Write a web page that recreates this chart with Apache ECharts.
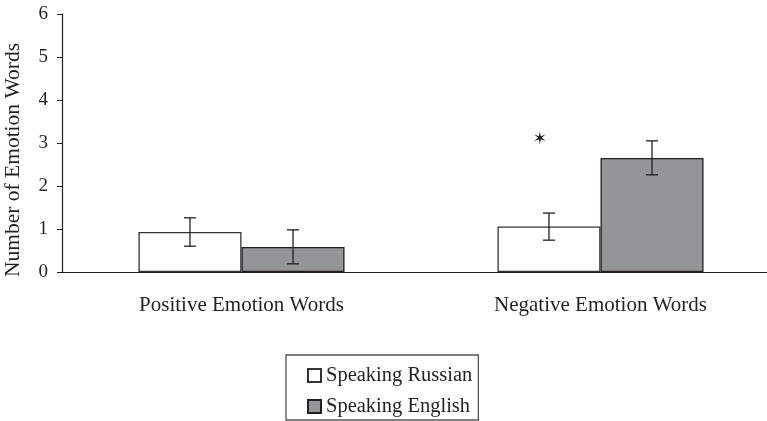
<!DOCTYPE html>
<html><head><meta charset="utf-8">
<script src="https://cdn.jsdelivr.net/npm/echarts@6/dist/echarts.min.js"></script>
<style>html,body{margin:0;padding:0;background:#fff}#c{width:767px;height:421px}</style>
</head><body><div id="c"></div>
<script>
const categories = ['Positive Emotion Words', 'Negative Emotion Words'];
const seriesNames = ['Speaking Russian', 'Speaking English'];
const russianValues = [0.93, 1.06];
const englishValues = [0.58, 2.65];
const russianErrLow = [0.60, 0.74];
const russianErrHigh = [1.26, 1.37];
const englishErrLow = [0.19, 2.26];
const englishErrHigh = [0.98, 3.05];
const yTicks = [0, 1, 2, 3, 4, 5, 6];
const starPoint = [[1, 3.09]];

const FONT = 'Liberation Serif';
const BAR_W = 0.287;
const chart = echarts.init(document.getElementById('c'));

function errSeries(low, high, side) {
  return {
    type: 'custom',
    data: low.map((l, i) => [i, l, high[i]]),
    z: 5,
    silent: true,
    renderItem: function (params, api) {
      const i = api.value(0);
      const band = api.size([1, 0])[0];
      const off = side * band * BAR_W / 2;
      const p1 = api.coord([i, api.value(1)]);
      const p2 = api.coord([i, api.value(2)]);
      const x = p1[0] + off;
      const cap = 6;
      const st = { stroke: '#231f20', lineWidth: 1.3 };
      return {
        type: 'group',
        children: [
          { type: 'line', shape: { x1: x, y1: p1[1], x2: x, y2: p2[1] }, style: st },
          { type: 'line', shape: { x1: x - cap, y1: p1[1], x2: x + cap, y2: p1[1] }, style: st },
          { type: 'line', shape: { x1: x - cap, y1: p2[1], x2: x + cap, y2: p2[1] }, style: st }
        ]
      };
    }
  };
}

chart.setOption({
  animation: false,
  textStyle: { fontFamily: FONT },
  grid: { left: 62, top: 14, width: 718, height: 258, outerBoundsMode: 'none', containLabel: false },
  legend: {
    orient: 'vertical',
    left: 286, top: 355,
    padding: [10, 6, 3, 21],
    itemGap: 10,
    itemWidth: 13, itemHeight: 13,
    icon: 'rect',
    borderColor: '#555', borderWidth: 1.3,
    textStyle: { fontFamily: FONT, fontSize: 20.5, color: '#231f20' },
    data: seriesNames
  },
  xAxis: {
    type: 'category',
    data: categories,
    axisLine: { lineStyle: { color: '#231f20', width: 1.2 } },
    axisTick: { length: 6, lineStyle: { color: '#231f20' } },
    axisLabel: { fontFamily: FONT, fontSize: 21, color: '#231f20', margin: 23 }
  },
  yAxis: {
    type: 'value',
    min: 0, max: 6, interval: 1,
    name: 'Number of Emotion Words',
    nameLocation: 'middle',
    nameGap: 38,
    nameTextStyle: { fontFamily: FONT, fontSize: 21.5, color: '#231f20', padding: [0, 34, 0, 0] },
    axisLine: { show: true, lineStyle: { color: '#231f20', width: 1.2 } },
    axisTick: { show: true, length: 5, lineStyle: { color: '#231f20' } },
    splitLine: { show: false },
    axisLabel: { fontFamily: FONT, fontSize: 19, color: '#231f20', margin: 14,
      formatter: v => yTicks.includes(v) ? String(v) : '' }
  },
  series: [
    { name: seriesNames[0], type: 'bar', data: russianValues, barWidth: (BAR_W * 100) + '%', barGap: '0%',
      itemStyle: { color: '#ffffff', borderColor: '#333333', borderWidth: 1.3 } },
    { name: seriesNames[1], type: 'bar', data: englishValues, barWidth: (BAR_W * 100) + '%', barGap: '0%',
      itemStyle: { color: '#939598', borderColor: '#231f20', borderWidth: 1.3 } },
    errSeries(russianErrLow, russianErrHigh, -1),
    errSeries(englishErrLow, englishErrHigh, 1),
    { type: 'custom', data: starPoint, z: 6, silent: true,
      renderItem: function (params, api) {
        const band = api.size([1, 0])[0];
        const p = api.coord([api.value(0), api.value(1)]);
        return { type: 'text', x: p[0] - band * BAR_W / 2 - 9, y: p[1],
          style: { text: '✶', fontFamily: 'DejaVu Sans', fontSize: 17, fill: '#231f20', align: 'center', verticalAlign: 'middle' } };
      } }
  ]
});
</script></body></html>
